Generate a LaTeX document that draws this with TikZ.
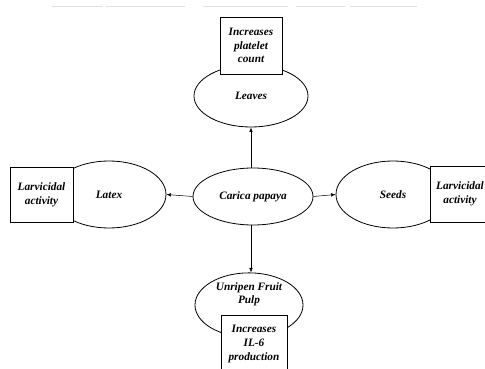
\documentclass[tikz,border=0pt]{standalone}
\usepackage{fontspec}
\setmainfont{Liberation Serif}
\usetikzlibrary{shapes.geometric,arrows.meta}
\begin{document}
\begin{tikzpicture}[x=1pt,y=-1pt,
  lbl/.style={font=\fontsize{11.3}{13.8}\selectfont\bfseries\itshape, align=center},
  oval/.style={ellipse, draw, line width=0.8pt, fill=white, inner sep=0pt, lbl},
  tbox/.style={rectangle, draw, line width=0.8pt, fill=white, inner sep=0pt, lbl},
  arr/.style={line width=0.5pt, -{Latex[length=4.5pt,width=3.5pt]}},
  scan/.style={draw=black!12, line width=1pt}]
\useasboundingbox (0,0) rectangle (485,369);
\clip (0,0) rectangle (485,369);
% faint scan lines at top
\draw[scan] (52,7) -- (103,7);
\draw[scan] (106,7) -- (185,7);
\draw[scan] (203,7) -- (288,7);
\draw[scan] (296,7) -- (345,7);
\draw[scan] (350,7) -- (417,7);
% ellipses
\node[oval, minimum width=120pt, minimum height=57pt] (c) at (253,196.5) {Carica papaya};
\node[oval, minimum width=114pt, minimum height=62pt] (l) at (251,96) {Leaves};
\node[oval, minimum width=114pt, minimum height=67pt] (x) at (109,194.5) {Latex};
\node[oval, minimum width=114pt, minimum height=67pt] (s) at (393,194.5) {Seeds};
\node[oval, minimum width=108pt, minimum height=60pt] (u) at (249,305) {Unripen Fruit\\Pulp\\[10pt]};
% boxes
\node[tbox, minimum width=62pt, minimum height=57pt] (bt) at (251,45.5) {Increases\\platelet\\count};
\node[tbox, minimum width=63pt, minimum height=55pt] (bl) at (41.5,194.5) {Larvicidal\\activity};
\node[tbox, minimum width=60pt, minimum height=56pt] (br) at (460,194) {Larvicidal\\activity};
\node[tbox, minimum width=66pt, minimum height=58pt] (bb) at (254,344) {Increases\\IL-6\\production};
% arrows
\draw[arr] (l.south |- c.north) -- (l.south);
\draw[arr] (l.south |- c.south) -- (l.south |- u.north);
\draw[arr] (c.west) -- (x.east);
\draw[arr] (c.east) -- (s.west);
\end{tikzpicture}
\end{document}
